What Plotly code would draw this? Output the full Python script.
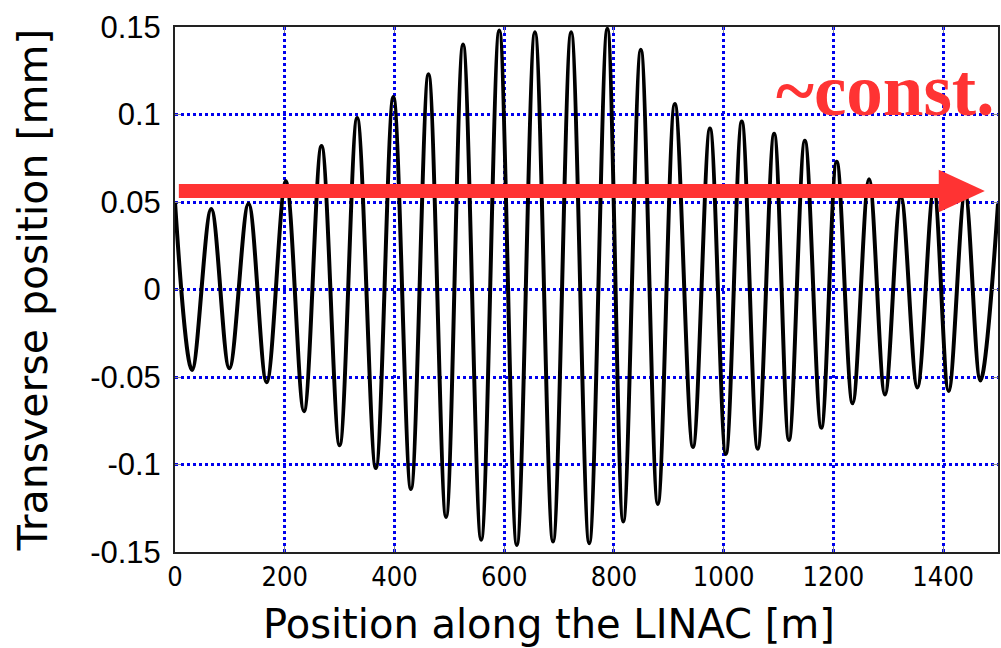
import plotly.graph_objects as go

# Extrema of the betatron oscillation
positions_m = [0, 31, 66, 99, 134, 167, 202, 235, 267, 300,
               332, 366, 398, 430, 462, 494, 525, 558, 591, 623,
               656, 689, 722, 755, 788, 817, 849, 880, 911, 944,
               975, 1004, 1033, 1062, 1092, 1119, 1148, 1178, 1206, 1235,
               1265, 1294, 1323, 1353, 1383, 1410, 1440, 1468, 1500]
offsets_mm = [0.050, -0.046, 0.046, -0.045, 0.049, -0.053, 0.062, -0.0695, 0.082, -0.089,
              0.098, -0.102, 0.110, -0.114, 0.123, -0.130, 0.140, -0.143, 0.148, -0.146,
              0.147, -0.144, 0.147, -0.145, 0.149, -0.1325, 0.137, -0.1225, 0.106, -0.090,
              0.092, -0.094, 0.096, -0.091, 0.089, -0.086, 0.085, -0.079, 0.073, -0.065,
              0.063, -0.060, 0.053, -0.056, 0.057, -0.058, 0.055, -0.052, 0.049]

x_ticks = [0, 200, 400, 600, 800, 1000, 1200, 1400]
y_ticks = [-0.15, -0.1, -0.05, 0, 0.05, 0.1, 0.15]
y_tick_text = ["-0.15", "-0.1", "-0.05", "0", "0.05", "0.1", "0.15"]

# Arrow annotation (start, head base, tip, level)
arrow_x = [7, 1392, 1476]
arrow_y = 0.0563
arrow_half_h = 0.0122

RED = "#ff3333"

fig = go.Figure()
fig.add_trace(go.Scatter(
    x=positions_m, y=offsets_mm, mode="lines",
    line=dict(color="black", width=4, shape="spline", smoothing=1.0),
    showlegend=False, hoverinfo="skip",
))

fig.add_shape(type="line", xref="x", yref="y",
              x0=arrow_x[0], x1=arrow_x[1] + 2, y0=arrow_y, y1=arrow_y,
              line=dict(color=RED, width=14), layer="above")
fig.add_shape(type="path", xref="x", yref="y",
              path=f"M {arrow_x[1]} {arrow_y - arrow_half_h} L {arrow_x[2]} {arrow_y} "
                   f"L {arrow_x[1]} {arrow_y + arrow_half_h} Z",
              fillcolor=RED, line=dict(color=RED, width=0), layer="above")

fig.add_annotation(x=0.997, y=0.1135, xref="paper", yref="y",
                   text="<b>~const.</b>", showarrow=False,
                   xanchor="right", yanchor="middle",
                   font=dict(family="Liberation Serif", size=73, color=RED))

# x-axis title (placed as text, slightly left of the axis centre as in the original)
fig.add_annotation(x=0.4545, y=-0.0895, xref="paper", yref="paper",
                   text="Position along the LINAC [m]", showarrow=False,
                   xanchor="center", yanchor="top",
                   font=dict(family="DejaVu Sans", size=40, color="black"))

axis_common = dict(showline=True, linecolor="#222222", linewidth=2, mirror="allticks",
                   ticks="inside", ticklen=6, tickcolor="#888888", tickwidth=1,
                   showgrid=True, gridcolor="#0000ee", gridwidth=3, griddash="dot",
                   zeroline=False)

fig.update_xaxes(range=[0, 1500], tickvals=x_ticks, **axis_common,
                 tickfont=dict(family="DejaVu Sans Condensed", size=27, color="black"))
fig.update_yaxes(range=[-0.15, 0.15], tickvals=y_ticks, ticktext=y_tick_text, **axis_common,
                 ticklabelstandoff=6,
                 tickfont=dict(family="Liberation Sans", size=31, color="black"),
                 title=dict(text="Transverse position [mm]", standoff=30,
                            font=dict(family="DejaVu Sans", size=41, color="black")))

fig.update_layout(width=1001, height=648,
                  margin=dict(l=175, r=1, t=27, b=96),
                  plot_bgcolor="white", paper_bgcolor="white")

fig.write_html("out.html")
